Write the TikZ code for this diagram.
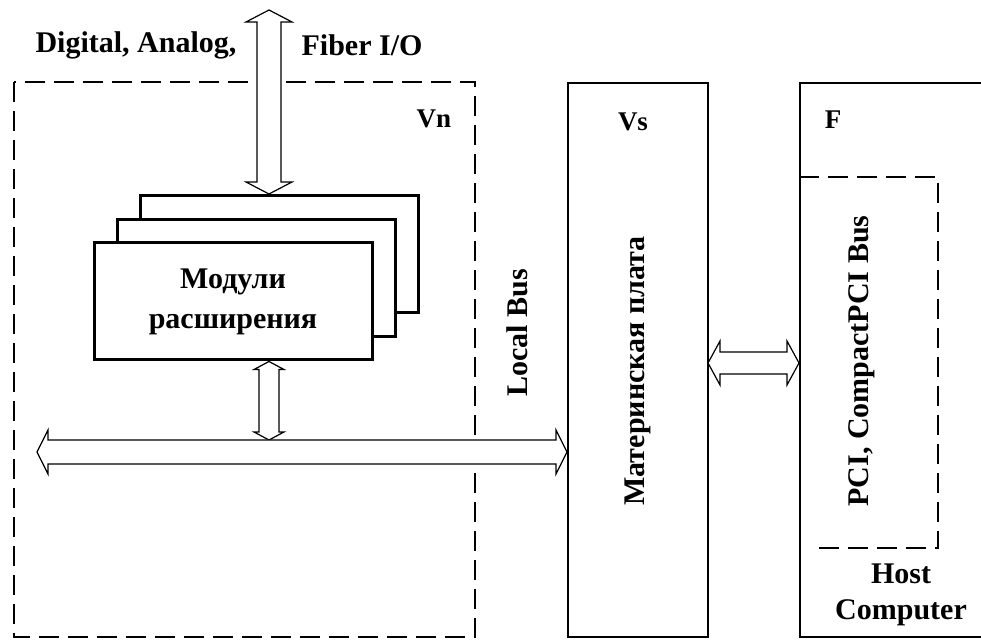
\documentclass[tikz,border=0pt]{standalone}
\usepackage{fontspec}
\setmainfont{Liberation Serif}
\usetikzlibrary{calc,positioning}

\tikzset{
  lbl/.style={font=\bfseries\fontsize{15}{18}\selectfont, inner sep=0pt},
  tag/.style={font=\bfseries\fontsize{13.5}{16}\selectfont, inner sep=0pt},
  modbox/.style={draw, line width=1.5pt, fill=white, minimum width=139pt, minimum height=58.5pt, inner sep=0pt},
  unitbox/.style={draw, line width=1pt, inner sep=0pt},
  dashbox/.style={line width=0.8pt, dash pattern=on 10pt off 4.5pt},
  arrowline/.style={draw, line width=0.6pt, fill=white, line join=miter}
}

% fat double arrow: from, to, shaft half width, head half width, head length
\newcommand{\dblarrow}[5]{%
  \path[arrowline] let \p1=(#1), \p2=(#2),
      \n1={atan2(\y2-\y1,\x2-\x1)}, \n2={veclen(\x2-\x1,\y2-\y1)} in
    [shift={(\p1)}, rotate=\n1]
    (0pt,0pt) -- (#5,#4) -- (#5,#3) -- (\n2-#5,#3) -- (\n2-#5,#4) -- (\n2,0pt)
    -- (\n2-#5,-#4) -- (\n2-#5,-#3) -- (#5,-#3) -- (#5,-#4) -- cycle;}

\begin{document}
\begin{tikzpicture}[x=0.5pt, y=-0.5pt]
  \useasboundingbox (0,0) rectangle (981,640);

  % Vn crate
  \draw[dashbox] (14,82) rectangle (475,637);
  \node[tag] (vn) at (434,119) {Vn};

  % expansion modules
  \node[modbox] (mod3) at (279,254) {};
  \node[modbox] (mod2) at (256,278) {};
  \node[modbox, align=center, font=\bfseries\fontsize{15}{20}\selectfont] (mod1) at (233,301.5)
    {Модули\\расширения};

  % motherboard
  \node[unitbox, minimum width=70pt, minimum height=277pt] (vs) at (638,360) {};
  \node[tag] (vslbl) at (633,122) {Vs};
  \node[lbl, rotate=90] (mb) at (638,371) {Материнская плата};
  \node[lbl, rotate=90] (local) at (517,333) {Local Bus};

  % host computer
  \node[unitbox, minimum width=120pt, minimum height=277pt] (f) at (920,360) {};
  \node[tag] (flbl) at (833,120) {F};
  \draw[dashbox] (f.west |- 0,177) -- (938,177) -- (938,548) -- (810,548);
  \node[lbl, rotate=90] (pci) at (862,361) {PCI, CompactPCI Bus};
  \node[lbl, align=center] (host) at (901,595) {Host\\Computer};

  % I/O labels
  \node[lbl] (dig) at (136,45) {Digital, Analog,};
  \node[lbl] (fib) at (362,45) {Fiber I/O};

  % connectors
  \coordinate (io) at (269,10);
  \coordinate (bustop) at (269,440);
  \coordinate (busend) at (37,452);
  \coordinate (pcibus) at (708,363);
  \dblarrow{io}{io |- mod3.north}{6pt}{11.5pt}{6pt}
  \dblarrow{io |- mod1.south}{bustop}{5pt}{7.5pt}{4pt}
  \dblarrow{busend}{vs.west |- busend}{6pt}{11pt}{5.5pt}
  \dblarrow{pcibus}{f.west |- pcibus}{5.5pt}{11pt}{6pt}
\end{tikzpicture}
\end{document}
